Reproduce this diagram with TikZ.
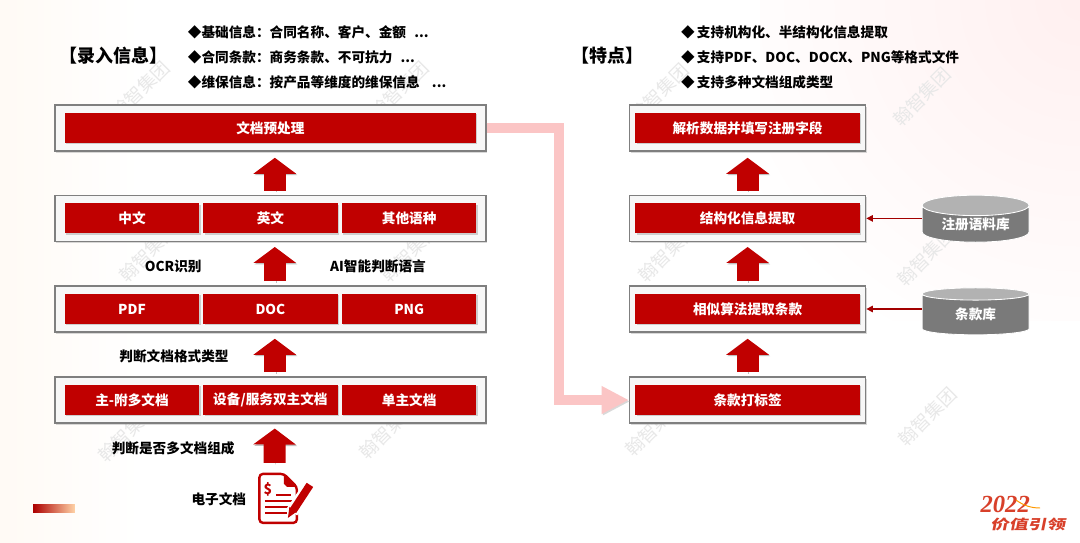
\documentclass[tikz,border=0pt]{standalone}
\usepackage{fontspec}
\setmainfont{Noto Sans CJK SC}
\newfontfamily\logodigits{Liberation Serif}
\usetikzlibrary{shapes.geometric, arrows.meta, positioning, calc, shadows}
\definecolor{barred}{HTML}{C00000}
\definecolor{framegray}{HTML}{7F7F7F}
\definecolor{pinkline}{HTML}{FBC5C5}
\definecolor{logored}{HTML}{D8402A}
\pgfdeclareradialshading{cornerglow}{\pgfpointorigin}{color(0bp)=(red!6); color(30bp)=(white); color(50bp)=(white)}

\begin{document}
\begin{tikzpicture}[
    framebox/.style={rectangle, draw=framegray, line width=1.1pt, fill=black!3, minimum height=1.15cm, drop shadow={opacity=.3, shadow xshift=1pt, shadow yshift=-1.2pt}},
    bar/.style={rectangle, fill=barred, text=white, minimum height=0.75cm, inner sep=0pt, align=center, font=\fontsize{9.7pt}{11pt}\selectfont\bfseries, drop shadow={opacity=.35, shadow xshift=1pt, shadow yshift=-1pt}},
    wide/.style={bar, minimum width=10.275cm},
    seg/.style={bar, minimum width=3.36cm},
    side/.style={bar, minimum width=5.62cm},
    heading/.style={inner sep=0pt, font=\fontsize{12.8pt}{14pt}\selectfont\bfseries},
    bullet/.style={anchor=west, inner sep=0pt, font=\fontsize{9.7pt}{11pt}\selectfont\bfseries},
    note/.style={inner sep=0pt, font=\fontsize{9.7pt}{11pt}\selectfont\bfseries},
    store/.style={cylinder, shape border rotate=90, shape aspect=0.3, cylinder uses custom fill, cylinder body fill=black!52, cylinder end fill=black!30, draw=white, line width=0.6pt, minimum width=2.675cm, minimum height=1.175cm, inner sep=0pt, text=white, font=\fontsize{9.7pt}{11pt}\selectfont\bfseries},
    flow/.style={draw=barred, line width=0.55cm, -{Triangle[length=0.4cm,width=1.05cm]}, preaction={draw=black!25, transform canvas={xshift=0.8pt,yshift=-1pt}}},
    feed/.style={draw=barred!85!black, line width=0.9pt, -{Triangle[length=0.16cm,width=0.16cm]}},
    transfer/.style={draw=pinkline, line width=0.24cm, -{Triangle[length=0.68cm,width=0.65cm]}, preaction={draw=black!15, transform canvas={xshift=0.8pt,yshift=-1pt}}},
    stamp/.style={text=black!9, rotate=45, font=\fontsize{13pt}{15pt}\selectfont}
]
\useasboundingbox (0,0) rectangle (27,-13.575);

% Background
\fill[white] (0,0) rectangle (27,-13.575);
\fill[left color=orange!4, right color=white] (0,0) rectangle (3.5,-13.575);
\shade[shading=cornerglow] (19,8) rectangle (35,-8);

% Watermarks
\node[stamp] (m1) at (3.52,-2.25) {翰智集团};
\node[stamp] (m2) at (9.98,-2.25) {翰智集团};
\node[stamp] (m3) at (3.7,-6.32) {翰智集团};
\node[stamp] (m4) at (10.25,-6.32) {翰智集团};
\node[stamp] (m5) at (3.18,-10.82) {翰智集团};
\node[stamp] (m6) at (9.72,-10.75) {翰智集团};
\node[stamp] (m7) at (16.48,-2.32) {翰智集团};
\node[stamp] (m8) at (23.05,-2.42) {翰智集团};
\node[stamp] (m9) at (16.68,-6.32) {翰智集团};
\node[stamp] (m10) at (23.15,-6.42) {翰智集团};
\node[stamp] (m11) at (16.35,-10.68) {翰智集团};
\node[stamp] (m12) at (23.18,-10.42) {翰智集团};

% Headings
\node[heading] (inputhead) at (2.84,-1.38) {【录入信息】};
\node[heading] (traithead) at (15.18,-1.38) {【特点】};
\node[bullet] (in1) at (4.69,-0.82) {◆基础信息：合同名称、客户、金额\hspace{0.6em}...};
\node[bullet] (in2) at (4.69,-1.43) {◆合同条款：商务条款、不可抗力\hspace{0.6em}...};
\node[bullet] (in3) at (4.69,-2.05) {◆维保信息：按产品等维度的维保信息\hspace{0.9em}...};
\node[bullet] (tr1) at (17.02,-0.82) {◆\,支持机构化、半结构化信息提取};
\node[bullet] (tr2) at (17.02,-1.43) {◆\,支持PDF、DOC、DOCX、PNG等格式文件};
\node[bullet] (tr3) at (17.02,-2.05) {◆\,支持多种文档组成类型};

% Left frames
\node[framebox, minimum width=10.775cm] (prep) at (6.76,-3.2) {};
\node[framebox, minimum width=10.775cm] (lang) at (6.76,-5.46) {};
\node[framebox, minimum width=10.775cm] (format) at (6.76,-7.725) {};
\node[framebox, minimum width=10.775cm] (compose) at (6.76,-10) {};

% Right frames
\node[framebox, minimum width=5.9cm] (fill) at (18.69,-3.2) {};
\node[framebox, minimum width=5.9cm] (extract) at (18.69,-5.46) {};
\node[framebox, minimum width=5.9cm] (similar) at (18.69,-7.725) {};
\node[framebox, minimum width=5.9cm] (tagging) at (18.69,-10) {};

% Bars
\node[wide] (prepbar) at (6.76,-3.2) {文档预处理};
\node[seg] (zh) at (3.3,-5.46) {中文};
\node[seg] (en) at (6.76,-5.46) {英文};
\node[seg] (other) at (10.23,-5.46) {其他语种};
\node[seg] (pdf) at (3.3,-7.725) {PDF};
\node[seg] (doc) at (6.76,-7.725) {DOC};
\node[seg] (png) at (10.23,-7.725) {PNG};
\node[seg] (multi) at (3.3,-10) {主-附多文档};
\node[seg] (dual) at (6.76,-10) {设备/服务双主文档};
\node[seg] (single) at (10.23,-10) {单主文档};
\node[side] (fillbar) at (18.69,-3.2) {解析数据并填写注册字段};
\node[side] (extractbar) at (18.69,-5.46) {结构化信息提取};
\node[side] (similarbar) at (18.69,-7.725) {相似算法提取条款};
\node[side] (tagbar) at (18.69,-10) {条款打标签};

% Stores
\node[store] (corpus) at (24.39,-5.6) {注册语料库};
\node[store] (clauses) at (24.39,-7.865) {条款库};

% Labels
\node[note] (ocr) at (4.33,-6.67) {OCR识别};
\node[note] (ai) at (9.45,-6.67) {AI智能判断语言};
\node[note] (judgefmt) at (4.35,-8.92) {判断文档格式类型};
\node[note] (judgemulti) at (4.33,-11.2) {判断是否多文档组成};
\node[note] (edoc) at (5.47,-12.47) {电子文档};

% Icon
\begin{scope}[x=0.025cm, y=-0.025cm]
\coordinate (icontop) at (274.5,473);
\draw[barred, line width=1.7pt, rounded corners=2.5pt] (284,474) -- (259.5,474) -- (259.5,523) -- (297,523) -- (297,487) -- cycle;
\fill[barred] (284,474) -- (297,487) -- (287,487) -- (284,484) -- cycle;
\node[text=barred, inner sep=0pt, font=\fontsize{10pt}{11pt}\selectfont\bfseries] (dollar) at (268,490) {\$};
\draw[barred, line width=1.5pt] (276,495) -- (291,495);
\draw[barred, line width=1.5pt] (265,501) -- (292,501);
\draw[barred, line width=1.5pt] (265,507) -- (292,507);
\draw[barred, line width=1.5pt] (265,513) -- (287,513);
\draw[white, line width=9pt] (292,512) -- (311,484);
\draw[barred, line width=5.5pt] (293,511) -- (310,485);
\fill[barred] (288,518) -- (289.5,507) -- (296.5,512) -- cycle;
\end{scope}

% Corner marks
\fill[left color=barred!90!black, right color=orange!35] (0.83,-12.6) rectangle (1.87,-12.8);
\node[text=logored, inner sep=0pt, font=\logodigits\fontsize{17.5pt}{18pt}\selectfont\bfseries\itshape] (logoyear) at (25.13,-12.62) {2022};
\node[text=logored, inner sep=0pt, xslant=0.2, xscale=1.4, transform shape, font=\fontsize{9.5pt}{11pt}\selectfont\bfseries] (logotext) at (25.72,-13.1) {价值引领};
\draw[orange!80!yellow, line width=0.7pt] (25.4,-12.5) .. controls (25.6,-12.65) and (25.8,-12.7) .. (26,-12.7);

% Connections
\draw[flow, shorten <=0.1cm, shorten >=0.15cm] ([xshift=0.11cm]lang.north) -- ([xshift=0.11cm]prep.south);
\draw[flow, shorten <=0.1cm, shorten >=0.12cm] ([xshift=0.11cm]format.north) -- ([xshift=0.11cm]lang.south);
\draw[flow, shorten <=0.1cm, shorten >=0.15cm] ([xshift=0.11cm]compose.north) -- ([xshift=0.11cm]format.south);
\draw[flow, shorten <=0.25cm, shorten >=0.12cm] (icontop) -- ([xshift=0.11cm]compose.south);
\draw[flow, shorten <=0.1cm, shorten >=0.15cm] (extract.north) -- (fill.south);
\draw[flow, shorten <=0.1cm, shorten >=0.12cm] (similar.north) -- (extract.south);
\draw[flow, shorten <=0.1cm, shorten >=0.15cm] (tagging.north) -- (similar.south);
\draw[feed] (corpus.west |- extract.east) -- (extract.east);
\draw[feed] (clauses.west |- similar.east) -- (similar.east);
\coordinate (turn) at (13.98,-3.2);
\draw[transfer] (prep.east) -- (turn) |- (tagging.west);
\end{tikzpicture}
\end{document}
